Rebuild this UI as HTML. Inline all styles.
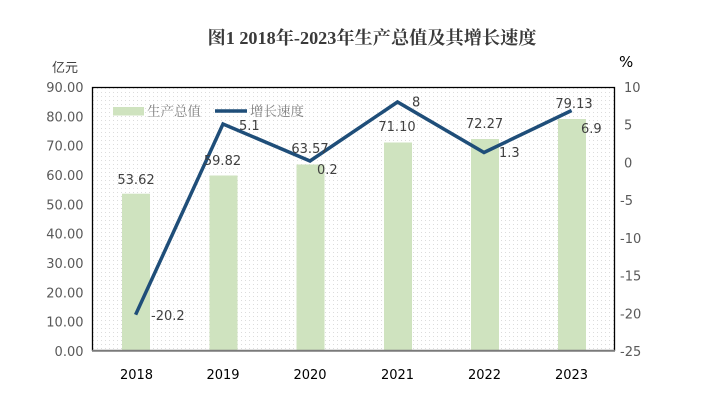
<!DOCTYPE html>
<html><head><meta charset="utf-8"><style>
html,body{margin:0;padding:0;background:#fff;}
svg{display:block;}
</style></head><body>
<svg width="704" height="402" viewBox="0 0 704 402" xmlns="http://www.w3.org/2000/svg">
<defs>
<pattern id="dots" x="92" y="87" width="4" height="4" patternUnits="userSpaceOnUse">
<rect x="1" y="1" width="1" height="1" fill="#dcdcdc"/>
</pattern>
</defs>
<rect width="704" height="402" fill="#fff"/>
<text x="372" y="44" text-anchor="middle" font-family="'Liberation Serif','Noto Serif CJK SC',serif" font-weight="bold" font-size="18" fill="#3a3a3a" textLength="329" lengthAdjust="spacingAndGlyphs">图1 2018年-2023年生产总值及其增长速度</text>
<!-- plot area -->
<rect x="92" y="87" width="523" height="264" fill="url(#dots)"/>
<!-- bars -->
<g fill="#cfe3bf">
<rect x="122" y="193.7" width="28" height="157.3"/>
<rect x="209.5" y="175.5" width="28" height="175.5"/>
<rect x="296.5" y="164.5" width="28" height="186.5"/>
<rect x="384" y="142.5" width="28" height="208.5"/>
<rect x="471" y="139" width="28" height="212"/>
<rect x="558" y="119" width="28" height="232"/>
</g>
<!-- border -->
<path d="M92.5 351 V87.5 H614.5 V351" fill="none" stroke="#000" stroke-width="1.3"/>
<line x1="92" y1="350.8" x2="615" y2="350.8" stroke="#7a7a7a" stroke-width="2"/>
<!-- line -->
<polyline points="135.6,314.7 223,124 310,161 397.5,102 484,152.5 571.6,110.5" fill="none" stroke="#1f4e79" stroke-width="3.5" stroke-linejoin="miter"/>
<!-- legend -->
<rect x="113" y="107" width="31" height="8.5" fill="#cfe3bf"/>
<text x="147" y="116" font-family="'Noto Serif CJK SC',serif" font-size="13.5" fill="#7f7f7f">生产总值</text>
<line x1="215" y1="111" x2="247" y2="111" stroke="#1f4e79" stroke-width="3.5"/>
<text x="250" y="116" font-family="'Noto Serif CJK SC',serif" font-size="13.5" fill="#7f7f7f">增长速度</text>
<!-- left ticks -->
<g font-family="'DejaVu Sans',sans-serif" font-size="13" fill="#595959" text-anchor="end">
<text x="83.5" y="92">90.00</text>
<text x="83.5" y="121.3">80.00</text>
<text x="83.5" y="150.7">70.00</text>
<text x="83.5" y="180">60.00</text>
<text x="83.5" y="209.3">50.00</text>
<text x="83.5" y="238.7">40.00</text>
<text x="83.5" y="268">30.00</text>
<text x="83.5" y="297.3">20.00</text>
<text x="83.5" y="326.7">10.00</text>
<text x="83.5" y="356">0.00</text>
</g>
<!-- right ticks -->
<g font-family="'DejaVu Sans',sans-serif" font-size="13" fill="#595959">
<text x="624" y="92">10</text>
<text x="624" y="129.7">5</text>
<text x="624" y="167.4">0</text>
<text x="620" y="205.1">-5</text>
<text x="620" y="242.9">-10</text>
<text x="620" y="280.6">-15</text>
<text x="620" y="318.3">-20</text>
<text x="620" y="356">-25</text>
</g>
<text x="52" y="72" font-family="'Noto Sans CJK SC',sans-serif" font-size="13" fill="#404040">亿元</text>
<text x="619" y="67" font-family="'DejaVu Sans',sans-serif" font-size="15" fill="#000">%</text>
<!-- x labels -->
<g font-family="'DejaVu Sans',sans-serif" font-size="13" fill="#000" text-anchor="middle">
<text x="136.5" y="379">2018</text>
<text x="223" y="379">2019</text>
<text x="310" y="379">2020</text>
<text x="397.5" y="379">2021</text>
<text x="484.5" y="379">2022</text>
<text x="571.5" y="379">2023</text>
</g>
<!-- bar labels -->
<g font-family="'DejaVu Sans',sans-serif" font-size="13" fill="#404040" text-anchor="middle">
<text x="136" y="184">53.62</text>
<text x="222.5" y="165">59.82</text>
<text x="310" y="153">63.57</text>
<text x="397" y="131">71.10</text>
<text x="484.5" y="128">72.27</text>
<text x="574" y="108">79.13</text>
</g>
<!-- line labels -->
<g font-family="'DejaVu Sans',sans-serif" font-size="13" fill="#404040">
<text x="151" y="320">-20.2</text>
<text x="239" y="130">5.1</text>
<text x="317" y="174">0.2</text>
<text x="412" y="106.5">8</text>
<text x="499" y="157">1.3</text>
<text x="581" y="133">6.9</text>
</g>
</svg>
</body></html>
